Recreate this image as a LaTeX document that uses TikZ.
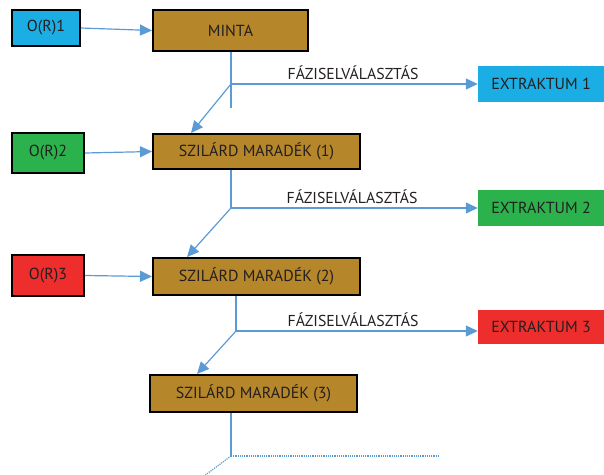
\documentclass[tikz,border=0pt]{standalone}
\usepackage{fontspec}
\setmainfont{PT Sans}
\usetikzlibrary{arrows.meta,calc}
\definecolor{gold}{HTML}{B5862A}
\definecolor{cblue}{HTML}{1BAEE4}
\definecolor{cgreen}{HTML}{2BB24C}
\definecolor{cred}{HTML}{EE2D2D}
\definecolor{lblue}{HTML}{5B9BD5}
\definecolor{txt}{HTML}{231F20}
\tikzset{
  every node/.style={font=\fontsize{16}{18}\selectfont, text=txt, inner sep=0pt},
  srcbox/.style={draw=black, line width=2pt, minimum width=#1, minimum height=38pt},
  goldbox/.style={draw=black, line width=2pt, fill=gold, minimum width=#1, minimum height=37pt},
  extbox/.style={minimum width=126pt, minimum height=36pt},
  conn/.style={draw=lblue, line width=1.2pt},
  arr/.style={conn, -{Triangle[length=12pt,width=11pt]}},
  dotconn/.style={draw=lblue, line width=1.2pt, densely dotted},
  lbl/.style={font=\fontsize{15.8}{18}\selectfont}
}
\begin{document}
\begin{tikzpicture}[x=1pt,y=-1pt]
\useasboundingbox (0,0) rectangle (604,474);
% row 1
\node[srcbox=68pt, fill=cblue, minimum height=36pt] (or1) at (46,28) {O(R)1};
\node[goldbox=155pt, minimum height=41pt] (minta) at (230.5,30.5) {MINTA};
\node[extbox, fill=cblue] (ex1) at (541,84) {EXTRAKTUM 1};
% row 2
\node[srcbox=72pt, fill=cgreen, minimum height=40pt] (or2) at (48,153) {O(R)2};
\node[goldbox=207pt, minimum height=35pt] (sz1) at (256.5,151.5) {SZILÁRD MARADÉK (1)};
\node[extbox, fill=cgreen] (ex2) at (541,208) {EXTRAKTUM 2};
% row 3
\node[srcbox=72pt, fill=cred, minimum height=41pt] (or3) at (48,275.5) {O(R)3};
\node[goldbox=207pt, minimum height=37pt] (sz2) at (256.5,276.5) {SZILÁRD MARADÉK (2)};
\node[extbox, fill=cred, minimum height=34pt] (ex3) at (541,327) {EXTRAKTUM 3};
% row 4
\node[goldbox=207pt, minimum height=37pt] (sz3) at (253.5,393.5) {SZILÁRD MARADÉK (3)};

% branch coordinates
\coordinate (b1) at (231,84);
\coordinate (b1e) at (231,108);
\coordinate (b2) at (231,208);
\coordinate (b3) at (236,331);
\coordinate (b4) at (231,456);
\coordinate (d4) at (438,456);
\coordinate (d4b) at (204,476);

% labels
\node[lbl] (l1) at (353,73) {FÁZISELVÁLASZTÁS};
\node[lbl] (l2) at (352,197) {FÁZISELVÁLASZTÁS};
\node[lbl] (l3) at (353,320) {FÁZISELVÁLASZTÁS};

% feeds
\draw[arr] (or1.east) -- (minta.west);
\draw[arr] (or2.east) -- (sz1.west);
\draw[arr] (or3.east) -- (sz2.west);

% step 1
\draw[conn] (minta.south -| b1) -- (b1e);
\draw[arr] (b1) -- (b1 -| ex1.west);
\draw[arr] (b1) -- ($(sz1.north west)+(39,0)$);
% step 2
\draw[conn] (sz1.south -| b2) -- (b2);
\draw[arr] (b2) -- (b2 -| ex2.west);
\draw[arr] (b2) -- ($(sz2.north west)+(35,0)$);
% step 3
\draw[conn] (sz2.south -| b3) -- (b3);
\draw[arr] (b3) -- (b3 -| ex3.west);
\draw[arr] (b3) -- ($(sz3.north west)+(48,0)$);
% step 4
\draw[conn] (sz3.south -| b4) -- (b4);
\draw[dotconn] (b4) -- (d4);
\draw[dotconn] (b4) -- (d4b);
\end{tikzpicture}
\end{document}
